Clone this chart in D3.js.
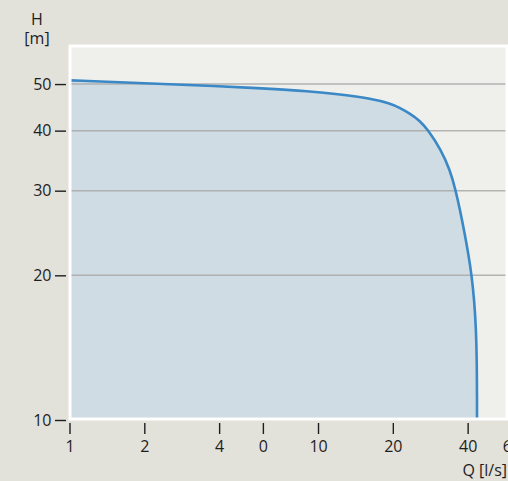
<!DOCTYPE html>
<html>
<head>
<meta charset="utf-8">
<script src="https://cdn.jsdelivr.net/npm/d3@7"></script>
<style>
  html, body { margin: 0; padding: 0; background: #e2e1da; overflow: hidden; }
  svg { display: block; }
  text { font-family: "Open Sans", "Noto Sans", sans-serif; fill: #1e1e1e; }
</style>
</head>
<body>
<svg id="chart" width="508" height="481"></svg>
<script>
// ---- data ----
const flowQ = [1, 2, 4, 5.84, 9.29, 12.26, 16.19, 19.49, 21.38, 23.46, 25.74, 27.72, 31.26, 33.98, 35.76, 37.28, 38.87, 40.34, 41.48, 42.53, 43.24, 43.55, 43.63, 43.63];
const headH = [50.9, 50.2, 49.5, 49.0, 48.3, 47.6, 46.7, 45.6, 44.6, 43.4, 41.9, 40.1, 36.5, 33.1, 30.1, 27.35, 24.5, 22.04, 20.03, 17.77, 15.39, 13.33, 11, 10];
const xTickValues = [1, 2, 4, 6, 10, 20, 40, 60];
const xTickLabels = ["1", "2", "4", "0", "10", "20", "40", "60"];
const yTickValues = [10, 20, 30, 40, 50];
const yTickLabels = ["10", "20", "30", "40", "50"];
const yGridValues = [20, 30, 40, 50];

// ---- layout ----
const plot = { left: 70, top: 46, right: 507, bottom: 419 };

const x = d3.scaleLog().domain([1, 60]).range([69.5, 511.4]);
const y = d3.scaleLog().domain([10, 60]).range([420, 46]);

const svg = d3.select("#chart");

svg.append("defs").append("clipPath").attr("id", "clip")
  .append("rect")
  .attr("x", plot.left).attr("y", plot.top)
  .attr("width", plot.right - plot.left).attr("height", plot.bottom - plot.top);

// plot background
svg.append("rect")
  .attr("x", plot.left).attr("y", plot.top)
  .attr("width", plot.right - plot.left).attr("height", plot.bottom - plot.top)
  .attr("fill", "#efefeb");

const data = flowQ.map((q, i) => ({ q, h: headH[i] }));
const g = svg.append("g").attr("clip-path", "url(#clip)");

const curve = d3.curveBasis;

g.append("path")
  .datum(data)
  .attr("fill", "#cfdce4")
  .attr("d", d3.area().x(d => x(d.q)).y0(y(10) + 2).y1(d => y(d.h)).curve(curve));

// gridlines
g.selectAll("line.grid").data(yGridValues).enter().append("line")
  .attr("class", "grid")
  .attr("x1", plot.left).attr("x2", plot.right)
  .attr("y1", d => y(d)).attr("y2", d => y(d))
  .attr("stroke", "#a9aaa8").attr("stroke-width", 1.5).attr("opacity", 0.85);

g.append("path")
  .datum(data)
  .attr("fill", "none")
  .attr("stroke", "#3a88c6")
  .attr("stroke-width", 2.6)
  .attr("stroke-linejoin", "round")
  .attr("d", d3.line().x(d => x(d.q)).y(d => y(d.h)).curve(curve));

// white frame
svg.append("rect")
  .attr("x", plot.left).attr("y", plot.top)
  .attr("width", plot.right - plot.left).attr("height", plot.bottom - plot.top)
  .attr("fill", "none").attr("stroke", "#ffffff").attr("stroke-width", 3);

// y axis
const yAxis = d3.axisLeft(y)
  .tickValues(yTickValues)
  .tickFormat((d, i) => yTickLabels[i])
  .tickSize(11).tickPadding(3.5);
const ya = svg.append("g").attr("transform", "translate(66,0)").call(yAxis);
ya.select(".domain").remove();
ya.selectAll(".tick line").attr("stroke", "#1e1e1e").attr("stroke-width", 1.4);
ya.selectAll(".tick text").attr("font-size", 16).attr("fill", "#1e1e1e")
  .attr("font-family", "'Open Sans', 'Noto Sans', sans-serif");

// x axis
const xAxis = d3.axisBottom(x)
  .tickValues(xTickValues)
  .tickFormat((d, i) => xTickLabels[i])
  .tickSize(11).tickPadding(6.5);
const xa = svg.append("g").attr("transform", "translate(0,423)").call(xAxis);
xa.select(".domain").remove();
xa.selectAll(".tick line").attr("stroke", "#1e1e1e").attr("stroke-width", 1.4);
xa.selectAll(".tick text").attr("font-size", 16).attr("fill", "#1e1e1e")
  .attr("font-family", "'Open Sans', 'Noto Sans', sans-serif");

// axis titles
svg.append("text").attr("x", 37).attr("y", 25).attr("text-anchor", "middle")
  .attr("font-size", 16).text("H");
svg.append("text").attr("x", 37).attr("y", 44).attr("text-anchor", "middle")
  .attr("font-size", 16).text("[m]");
svg.append("text").attr("x", 507).attr("y", 476).attr("text-anchor", "end")
  .attr("font-size", 16).text("Q [l/s]");
</script>
</body>
</html>
